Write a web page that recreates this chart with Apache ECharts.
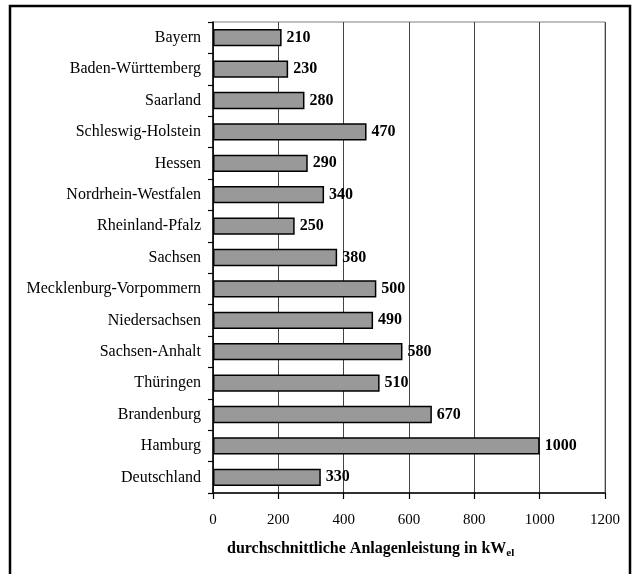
<!DOCTYPE html>
<html>
<head>
<meta charset="utf-8">
<script src="https://cdn.jsdelivr.net/npm/echarts@6/dist/echarts.min.js"></script>
<style>
  html, body { margin: 0; padding: 0; background: #fff; }
  #chart { width: 637px; height: 574px; }
</style>
</head>
<body>
<div id="chart"></div>
<script>
// Bundesländer (top to bottom)
const laender = [
  "Bayern", "Baden-Württemberg", "Saarland", "Schleswig-Holstein", "Hessen",
  "Nordrhein-Westfalen", "Rheinland-Pfalz", "Sachsen", "Mecklenburg-Vorpommern",
  "Niedersachsen", "Sachsen-Anhalt", "Thüringen", "Brandenburg", "Hamburg", "Deutschland"
];
// durchschnittliche Anlagenleistung in kW_el
const leistung = [210, 230, 280, 470, 290, 340, 250, 380, 500, 490, 580, 510, 670, 1000, 330];

const font = "'Liberation Serif', 'Times New Roman', serif";

let chart = echarts.init(document.getElementById("chart"));
let option = {
  animation: false,
  backgroundColor: "#fff",
  textStyle: { fontFamily: font },
  graphic: [
    {
      type: "rect",
      shape: { x: 10, y: 6, width: 620, height: 580 },
      style: { fill: "none", stroke: "#000", lineWidth: 2.5 }
    },
    {
      // axis title with subscript "el"
      type: "text",
      left: 227,
      top: 541,
      style: {
        text: "{a|durchschnittliche Anlagenleistung in kW}{b|el}",
        rich: {
          a: { fontFamily: font, fontSize: 16, fontWeight: "bold", fill: "#000", lineHeight: 20 },
          b: { fontFamily: font, fontSize: 11, fontWeight: "bold", fill: "#000", lineHeight: 20, verticalAlign: "bottom", padding: [7, 0, 0, 0] }
        }
      }
    }
  ],
  grid: {
    left: 213,
    right: 32,
    top: 22,
    bottom: 81,
    show: true,
    borderColor: "#808080",
    borderWidth: 1
  },
  xAxis: {
    type: "value",
    min: 0,
    max: 1200,
    interval: 200,
    axisLine: { show: true, lineStyle: { color: "#000", width: 1.5 } },
    axisTick: { show: true, length: 6, lineStyle: { color: "#000", width: 1.2 } },
    axisLabel: { color: "#000", fontSize: 15, fontFamily: font, margin: 20, formatter: v => String(v) },
    splitLine: { show: true, lineStyle: { color: "#444", width: 1 } }
  },
  yAxis: {
    type: "category",
    inverse: true,
    data: laender,
    axisLine: { show: true, lineStyle: { color: "#000", width: 1.5 } },
    axisTick: { show: true, length: 5, lineStyle: { color: "#000", width: 1.2 } },
    axisLabel: { color: "#000", fontSize: 16, fontFamily: font, margin: 12 },
    splitLine: { show: false }
  },
  series: [
    {
      type: "bar",
      data: leistung,
      barWidth: "55%",
      itemStyle: { color: "#999999", borderColor: "#000", borderWidth: 1.5 },
      label: {
        show: true,
        position: "right",
        distance: 5,
        color: "#000",
        fontFamily: font,
        fontWeight: "bold",
        fontSize: 16
      }
    }
  ]
};
chart.setOption(option);
</script>
</body>
</html>
